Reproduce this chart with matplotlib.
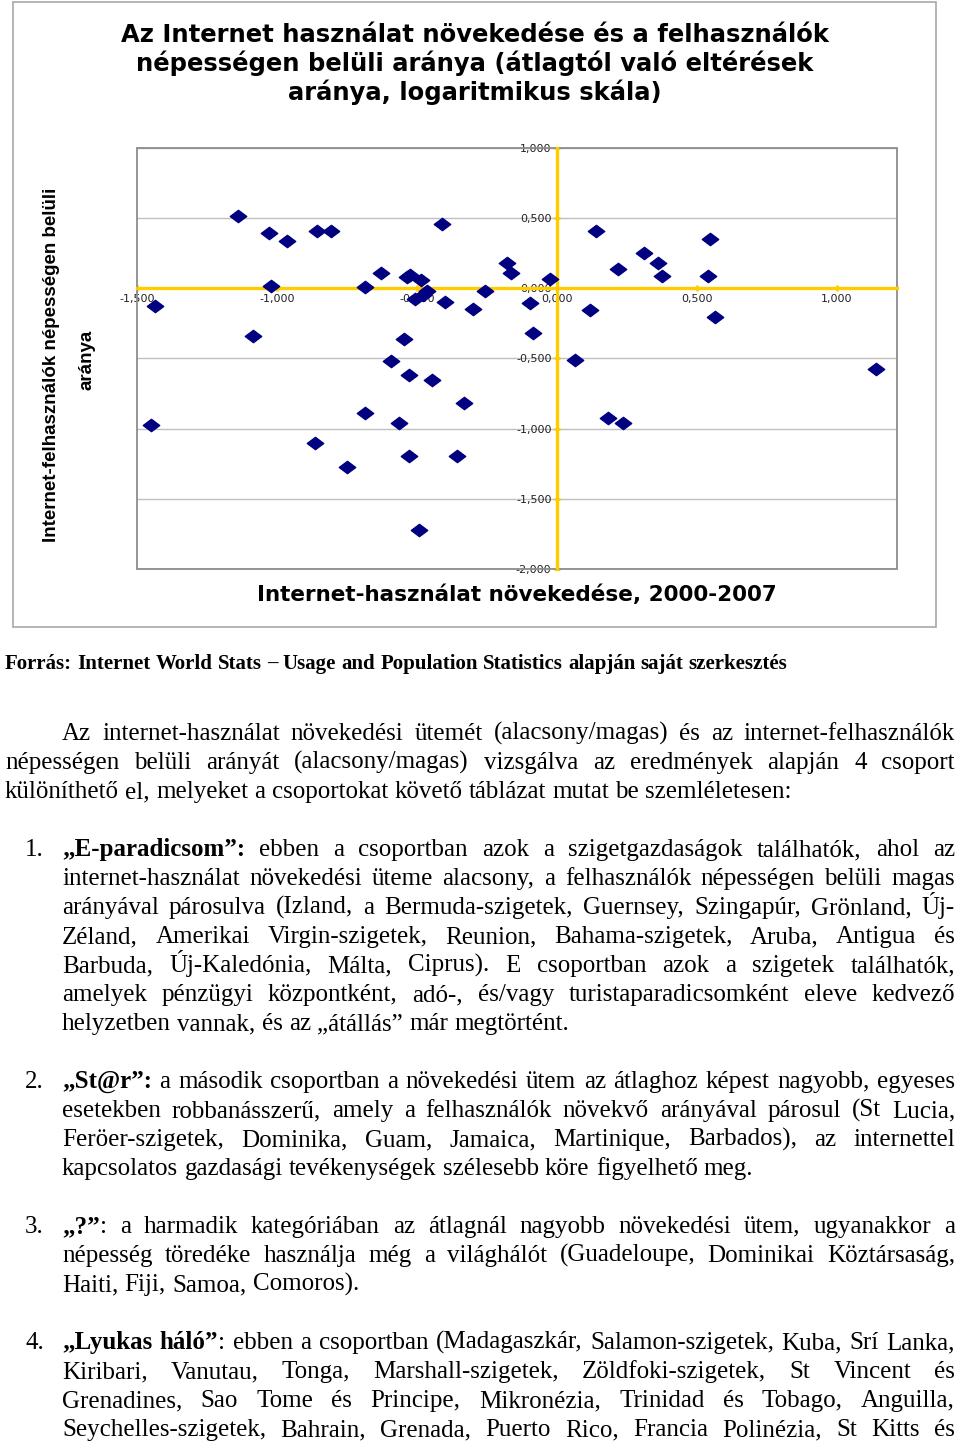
import numpy as np
import matplotlib
matplotlib.use('Agg')
import matplotlib.pyplot as plt
from matplotlib.patches import Rectangle
from matplotlib.path import Path
from matplotlib.ticker import FuncFormatter

# deviation from average (log scale): internet growth 2000-2007 vs. users' share of population
growth = [-1.138, -1.027, -0.965, -0.856, -0.807, -0.410, -0.630, -0.525, -0.535, -0.486,
          -1.020, -0.686, -0.465, -0.477, -0.507, -0.257, -0.180, -0.165, -1.436, -0.400,
          -0.301, -1.085, -0.546, -0.098, -0.085, -0.025, 0.138, 0.219, 0.311, 0.362,
          0.376, 0.546, 0.539, 0.118, 0.563, -0.593, -0.530, -0.445, -0.331, -0.686,
          -0.565, -1.450, -0.864, -0.530, -0.358, -0.751, -0.493, 0.063, 0.183, 0.235,
          1.139]
share = [0.514, 0.395, 0.336, 0.407, 0.407, 0.455, 0.110, 0.098, 0.081, 0.057,
         0.017, 0.007, -0.021, -0.050, -0.074, -0.017, 0.181, 0.110, -0.126, -0.098,
         -0.150, -0.340, -0.362, -0.106, -0.319, 0.069, 0.405, 0.138, 0.252, 0.179,
         0.088, 0.352, 0.088, -0.157, -0.207, -0.521, -0.621, -0.655, -0.817, -0.888,
         -0.960, -0.971, -1.102, -1.195, -1.195, -1.276, -1.724, -0.514, -0.921, -0.962,
         -0.576]
x_ticks = [-1.5, -1.0, -0.5, 0.0, 0.5, 1.0]
y_ticks = [-2.0, -1.5, -1.0, -0.5, 0.0, 0.5, 1.0]

title = "Az Internet használat növekedése és a felhasználók\nnépességen belüli aránya (átlagtól való eltérések\naránya, logaritmikus skála)"
xlabel = "Internet-használat növekedése, 2000-2007"
ylabel1 = "Internet-felhasználók népességen belüli"
ylabel2 = "aránya"
source = "Forrás: Internet World Stats – Usage and Population Statistics alapján saját szerkesztés"

# page text, '*' toggles bold
intro = [
    "Az internet-használat növekedési ütemét (alacsony/magas) és az internet-felhasználók",
    "népességen belüli arányát (alacsony/magas) vizsgálva az eredmények alapján 4 csoport",
    "különíthető el, melyeket a csoportokat követő táblázat mutat be szemléletesen:",
]
items = [
    ("1.", [
        "*„E-paradicsom”:* ebben a csoportban azok a szigetgazdaságok találhatók, ahol az",
        "internet-használat növekedési üteme alacsony, a felhasználók népességen belüli magas",
        "arányával párosulva (Izland, a Bermuda-szigetek, Guernsey, Szingapúr, Grönland, Új-",
        "Zéland, Amerikai Virgin-szigetek, Reunion, Bahama-szigetek, Aruba, Antigua és",
        "Barbuda, Új-Kaledónia, Málta, Ciprus). E csoportban azok a szigetek találhatók,",
        "amelyek pénzügyi központként, adó-, és/vagy turistaparadicsomként eleve kedvező",
        "helyzetben vannak, és az „átállás” már megtörtént.",
    ]),
    ("2.", [
        "*„St@r”:* a második csoportban a növekedési ütem az átlaghoz képest nagyobb, egyeses",
        "esetekben robbanásszerű, amely a felhasználók növekvő arányával párosul (St Lucia,",
        "Feröer-szigetek, Dominika, Guam, Jamaica, Martinique, Barbados), az internettel",
        "kapcsolatos gazdasági tevékenységek szélesebb köre figyelhető meg.",
    ]),
    ("3.", [
        "*„?”*: a harmadik kategóriában az átlagnál nagyobb növekedési ütem, ugyanakkor a",
        "népesség töredéke használja még a világhálót (Guadeloupe, Dominikai Köztársaság,",
        "Haiti, Fiji, Samoa, Comoros).",
    ]),
    ("4.", [
        "*„Lyukas* *háló”*: ebben a csoportban (Madagaszkár, Salamon-szigetek, Kuba, Srí Lanka,",
        "Kiribari, Vanutau, Tonga, Marshall-szigetek, Zöldfoki-szigetek, St Vincent és",
        "Grenadines, Sao Tome és Principe, Mikronézia, Trinidad és Tobago, Anguilla,",
        "Seychelles-szigetek, Bahrain, Grenada, Puerto Rico, Francia Polinézia, St Kitts és",
    ]),
]
item_y = [856, 1088, 1233, 1349]

fig = plt.figure(figsize=(9.6, 14.44), dpi=100)
page = fig.add_axes([0, 0, 1, 1])
page.set_xlim(0, 960)
page.set_ylim(1444, 0)
page.axis('off')
renderer = fig.canvas.get_renderer()

# chart frame
page.add_patch(Rectangle((13, 2), 923, 625, fill=False, ec='#A8A8A8', lw=1.2))
page.text(475, 64, title, ha='center', va='center', fontsize=17.5, fontweight='bold',
          family='DejaVu Sans', linespacing=1.16)
page.text(517, 595, xlabel, ha='center', va='center', fontsize=15.5, fontweight='bold',
          family='DejaVu Sans')
page.text(52, 365, ylabel1, ha='center', va='center', rotation=90, fontsize=13.5,
          fontweight='bold', family='Liberation Sans')
page.text(87, 360, ylabel2, ha='center', va='center', rotation=90, fontsize=13.5,
          fontweight='bold', family='Liberation Sans')

# scatter
gold = '#FFCC00'
ax = fig.add_axes([137 / 960, 1 - 569 / 1444, 760 / 960, 421 / 1444])
diamond = Path([(-1, 0), (0, 0.75), (1, 0), (0, -0.75), (-1, 0)],
               [Path.MOVETO, Path.LINETO, Path.LINETO, Path.LINETO, Path.CLOSEPOLY])
ax.scatter(growth, share, marker=diamond, s=140, color='#000080', zorder=5)
ax.set_xlim(-1.5, 1.214)
ax.set_ylim(-2.0, 1.0)
ax.set_xticks(x_ticks)
ax.set_yticks(y_ticks)
fmt = FuncFormatter(lambda v, p: f"{v:.3f}".replace('.', ','))
ax.xaxis.set_major_formatter(fmt)
ax.yaxis.set_major_formatter(fmt)
ax.spines['left'].set_position(('data', 0))
ax.spines['bottom'].set_position(('data', 0))
for s in ['left', 'bottom']:
    ax.spines[s].set_color(gold)
    ax.spines[s].set_linewidth(2.4)
    ax.spines[s].set_zorder(3)
for s in ['top', 'right']:
    ax.spines[s].set_visible(False)
ax.add_patch(Rectangle((0, 0), 1, 1, transform=ax.transAxes, fill=False,
                       ec='#8C8C8C', lw=1.3, clip_on=False, zorder=2))
ax.yaxis.grid(True, color='#C0C0C0', lw=1)
ax.set_axisbelow(True)
ax.tick_params(direction='inout', length=4, width=2, color=gold, labelsize=8, pad=2,
               labelcolor='#222222')
for lab in ax.get_xticklabels() + ax.get_yticklabels():
    lab.set_family('DejaVu Sans')


def draw_line(line, x0, x1, y, size, justify):
    words, cur, buf, bold = [], [], '', False
    for c in line:
        if c == '*':
            if buf:
                cur.append((buf, bold))
                buf = ''
            bold = not bold
        elif c == ' ':
            if buf:
                cur.append((buf, bold))
                buf = ''
            if cur:
                words.append(cur)
                cur = []
        else:
            buf += c
    if buf:
        cur.append((buf, bold))
    if cur:
        words.append(cur)

    placed = []
    total = 0
    for w in words:
        segs = []
        for txt, b in w:
            t = page.text(0, y, txt, fontsize=size, family='Liberation Serif',
                          fontweight='bold' if b else 'normal', va='baseline', ha='left')
            wd = t.get_window_extent(renderer).width
            segs.append((t, wd))
            total += wd
        placed.append(segs)
    gap = size * 100 / 72 * 0.25
    if justify and len(placed) > 1:
        gap = (x1 - x0 - total) / (len(placed) - 1)
    x = x0
    for segs in placed:
        for t, wd in segs:
            t.set_x(x)
            x += wd
        x += gap


body = 18
draw_line("*" + source + "*", 5, 955, 669, 15, False)
draw_line(intro[0], 62, 955, 740, body, True)
draw_line(intro[1], 5, 955, 769, body, True)
draw_line(intro[2], 5, 955, 798, body, False)
for (num, lines), y0 in zip(items, item_y):
    page.text(25, y0, num, fontsize=body, family='Liberation Serif', va='baseline')
    for i, ln in enumerate(lines):
        last = (i == len(lines) - 1) and num != "4."
        draw_line(ln, 62, 955, y0 + 29 * i, body, not last)

fig.savefig('out.png', dpi=100)
